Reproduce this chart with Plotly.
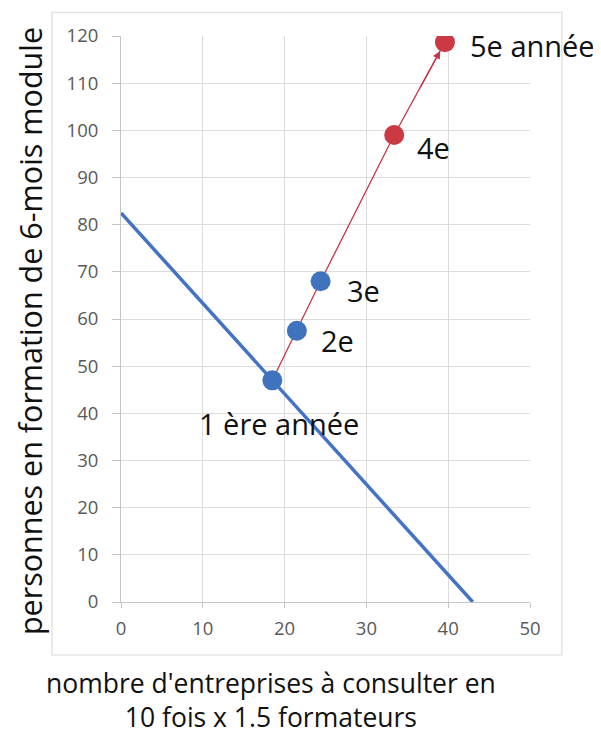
import plotly.graph_objects as go

# ---- data ----
year_labels = ["1 ère année", "2e", "3e", "4e", "5e année"]
x_years = [18.5, 21.5, 24.4, 33.4, 39.6]
y_years = [47, 57.5, 68, 99, 118.7]
blue_line_x = [0, 43]
blue_line_y = [82.5, 0]
x_ticks = [0, 10, 20, 30, 40, 50]
y_ticks = [0, 10, 20, 30, 40, 50, 60, 70, 80, 90, 100, 110, 120]

# ---- style ----
BLUE_LINE = "#4472C4"
BLUE_PT = "#3F73BE"
RED_PT = "#CB3A42"
RED_LINE = "#C8364A"
GRID = "#DCDCDC"
AXIS = "#C4C4C4"
FONT = "Open Sans"
pt_colors = [BLUE_PT, BLUE_PT, BLUE_PT, RED_PT, RED_PT]
label_anchor = ["center", "left", "left", "left", "left"]
label_dx = [7, 22, 24, 21, 23]
label_dy = [-43, -10, -9, -12, -3]

fig = go.Figure()

fig.add_trace(go.Scatter(x=blue_line_x, y=blue_line_y, mode="lines",
                         line=dict(color=BLUE_LINE, width=3.5),
                         hoverinfo="skip", showlegend=False))
fig.add_trace(go.Scatter(x=x_years, y=y_years, mode="lines",
                         line=dict(color=RED_LINE, width=1.3),
                         hoverinfo="skip", showlegend=False))
fig.add_trace(go.Scatter(x=x_years, y=y_years, mode="markers",
                         marker=dict(color=pt_colors, size=20, line=dict(width=0)),
                         showlegend=False))

# arrow head at last point
fig.add_annotation(x=x_years[-1], y=y_years[-1],
                   ax=(x_years[-2] + x_years[-1]) / 2, ay=(y_years[-2] + y_years[-1]) / 2,
                   xref="x", yref="y", axref="x", ayref="y",
                   showarrow=True, arrowhead=2, arrowsize=1.2, arrowwidth=1.3,
                   arrowcolor=RED_LINE, standoff=10, text="")

for lab, xv, yv, anc, dx, dy in zip(year_labels, x_years, y_years, label_anchor, label_dx, label_dy):
    fig.add_annotation(x=xv, y=yv, text=lab, showarrow=False, xanchor=anc, yanchor="middle",
                       xshift=dx, yshift=dy, font=dict(family=FONT, size=29, color="#111111"))

# axis titles
fig.add_annotation(xref="paper", yref="paper", x=0.367, y=-0.174,
                   text="nombre d'entreprises à consulter en<br>10 fois x 1.5 formateurs",
                   showarrow=False, xanchor="center", yanchor="middle",
                   font=dict(family=FONT, size=26.5, color="#111111"))
fig.add_annotation(xref="paper", yref="paper", x=-0.222, y=0.479,
                   text="personnes en formation de 6-mois module",
                   showarrow=False, textangle=-90, xanchor="center", yanchor="middle",
                   font=dict(family=FONT, size=30.5, color="#111111"))

# outer chart border
fig.add_shape(type="rect", xref="paper", yref="paper",
              x0=-0.1687, x1=1.078, y0=-0.0936, y1=1.042,
              line=dict(color=GRID, width=1.2), layer="below")

fig.update_xaxes(range=[0, 50], tickvals=x_ticks, showgrid=True, gridcolor=GRID, gridwidth=1,
                 zeroline=False, showline=True, linecolor=AXIS, ticks="outside", ticklen=5,
                 tickcolor=AXIS, ticklabelstandoff=5,
                 tickfont=dict(family=FONT, size=18.5, color="#595959"))
fig.update_yaxes(range=[0, 120], tickvals=y_ticks, showgrid=True, gridcolor=GRID, gridwidth=1,
                 zeroline=False, showline=True, linecolor=AXIS, ticks="outside", ticklen=8,
                 tickcolor=AXIS, ticklabelstandoff=10,
                 tickfont=dict(family=FONT, size=18.5, color="#595959"))

# page body has an 8px margin: figure is 593x727 so it fills the 601x735 window
fig.update_layout(width=593, height=727, margin=dict(l=113, r=71, t=28, b=133),
                  paper_bgcolor="white", plot_bgcolor="white", showlegend=False)

fig.write_html("out.html")
